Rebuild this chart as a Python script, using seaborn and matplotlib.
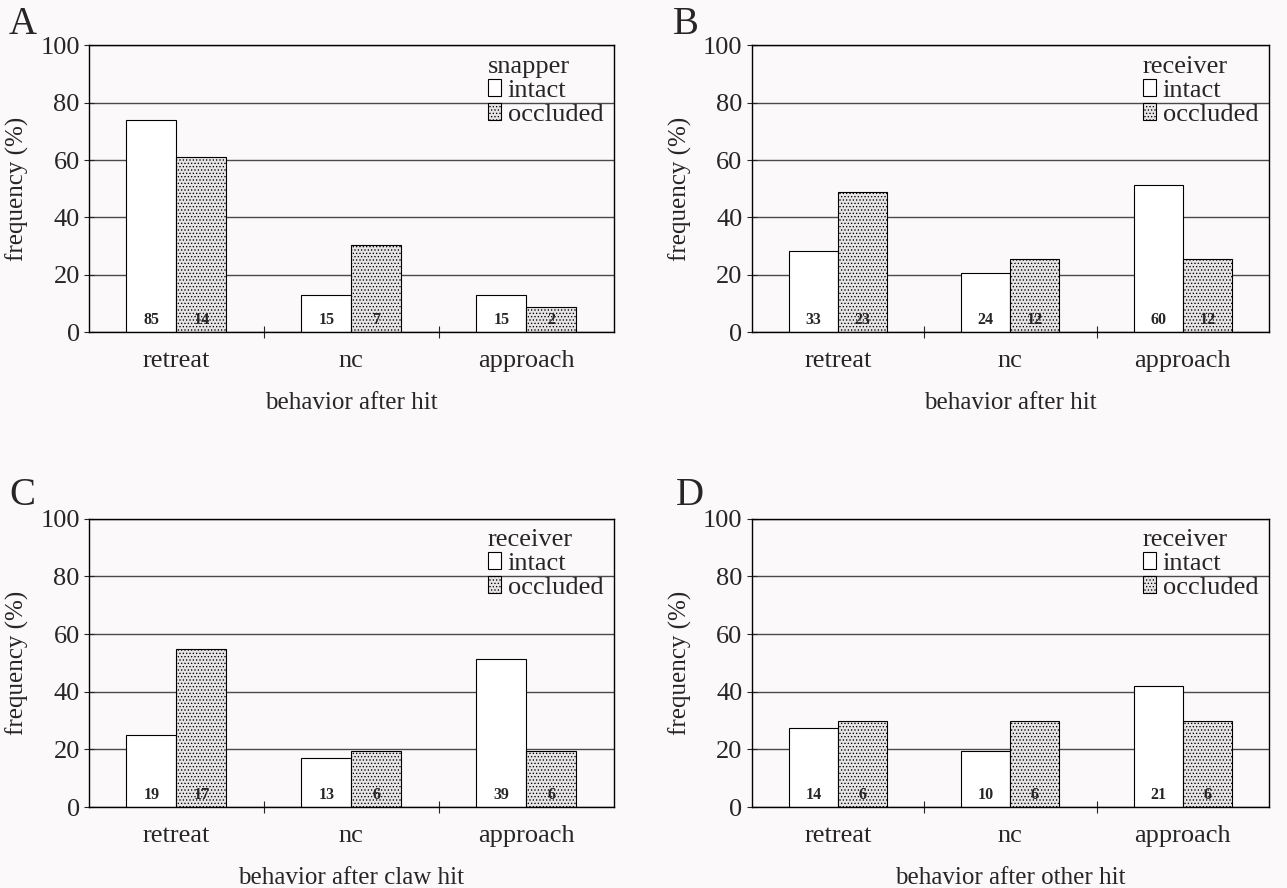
import numpy as np
import pandas as pd
import matplotlib
matplotlib.use("Agg")
import matplotlib.pyplot as plt
from matplotlib.ticker import FixedLocator
import seaborn as sns

# --- data ---
behaviors = ["retreat", "nc", "approach"]
conditions = ["intact", "occluded"]

freq_A_intact = [73.9, 13.0, 13.0]
freq_A_occluded = [60.9, 30.4, 8.7]
n_A_intact = [85, 15, 15]
n_A_occluded = [14, 7, 2]

freq_B_intact = [28.2, 20.5, 51.3]
freq_B_occluded = [48.9, 25.5, 25.5]
n_B_intact = [33, 24, 60]
n_B_occluded = [23, 12, 12]

freq_C_intact = [25.0, 17.1, 51.3]
freq_C_occluded = [54.8, 19.4, 19.4]
n_C_intact = [19, 13, 39]
n_C_occluded = [17, 6, 6]

freq_D_intact = [27.5, 19.6, 42.0]
freq_D_occluded = [30.0, 30.0, 30.0]
n_D_intact = [14, 10, 21]
n_D_occluded = [6, 6, 6]

panels = [
    ("A", "snapper", "behavior after hit", freq_A_intact, freq_A_occluded, n_A_intact, n_A_occluded),
    ("B", "receiver", "behavior after hit", freq_B_intact, freq_B_occluded, n_B_intact, n_B_occluded),
    ("C", "receiver", "behavior after claw hit", freq_C_intact, freq_C_occluded, n_C_intact, n_C_occluded),
    ("D", "receiver", "behavior after other hit", freq_D_intact, freq_D_occluded, n_D_intact, n_D_occluded),
]

# axes rectangles in figure fractions
boxes = [
    [0.069, 0.626, 0.408, 0.323],
    [0.584, 0.626, 0.402, 0.323],
    [0.069, 0.091, 0.408, 0.325],
    [0.584, 0.091, 0.402, 0.325],
]
letter_pos = [(0.007, 0.972), (0.523, 0.972), (0.007, 0.442), (0.525, 0.442)]

bg = "#fbf9f9"
sns.set_style("ticks")
plt.rcParams["font.family"] = ["Liberation Serif", "DejaVu Serif"]
plt.rcParams["hatch.color"] = "#8f8f8f"
plt.rcParams["hatch.linewidth"] = 0.55

fig = plt.figure(figsize=(12.87, 8.88), dpi=100, facecolor=bg)

for (letter, legtitle, xlab, fi, fo, ni, no), box, lp in zip(panels, boxes, letter_pos):
    df = pd.DataFrame({
        "behavior": behaviors * 2,
        "condition": ["intact"] * 3 + ["occluded"] * 3,
        "freq": list(fi) + list(fo),
    })
    ax = fig.add_axes(box)
    ax.set_facecolor(bg)
    sns.barplot(data=df, x="behavior", y="freq", hue="condition",
                order=behaviors, hue_order=conditions,
                palette={"intact": "white", "occluded": "#e6e4e4"},
                width=0.57, edgecolor="black", linewidth=0.8,
                legend=False, ax=ax)
    for bar in ax.containers[1]:
        bar.set_hatch(".....")

    # n values inside the bars
    for cont, counts in zip(ax.containers, [ni, no]):
        for bar, n in zip(cont, counts):
            ax.text(bar.get_x() + bar.get_width() / 2, 4.3, str(n),
                    ha="center", va="center", fontsize=11.5, fontweight="bold")

    ax.set_ylim(0, 100)
    ax.set_xlim(-0.5, 2.5)
    ax.set_yticks([0, 20, 40, 60, 80, 100])
    ax.yaxis.grid(True, color="#4a4a4a", linewidth=1.0)
    ax.set_axisbelow(True)
    for s in ax.spines.values():
        s.set_visible(True)
        s.set_color("black")
        s.set_linewidth(1.0)

    ax.tick_params(axis="y", direction="inout", length=7, width=0.8,
                   labelsize=19, pad=3)
    ax.tick_params(axis="x", which="major", length=0, labelsize=19, pad=13)
    ax.xaxis.set_minor_locator(FixedLocator([0.5, 1.5]))
    ax.tick_params(axis="x", which="minor", direction="inout", length=9, width=0.8)

    ax.set_ylabel("frequency (%)", fontsize=18, labelpad=8)
    ax.set_xlabel(xlab, fontsize=18, labelpad=14)

    leg = ax.legend([c[0] for c in ax.containers], conditions, title=legtitle,
                    loc="upper right", frameon=False, fontsize=19, title_fontsize=19,
                    handlelength=0.5, handleheight=0.6, handletextpad=0.25,
                    labelspacing=0.05, borderpad=0.2, borderaxespad=0.2,
                    alignment="left")

    fig.text(lp[0], lp[1], letter, fontsize=28, ha="left", va="center")

fig.savefig("out.png", dpi=100, facecolor=bg)
